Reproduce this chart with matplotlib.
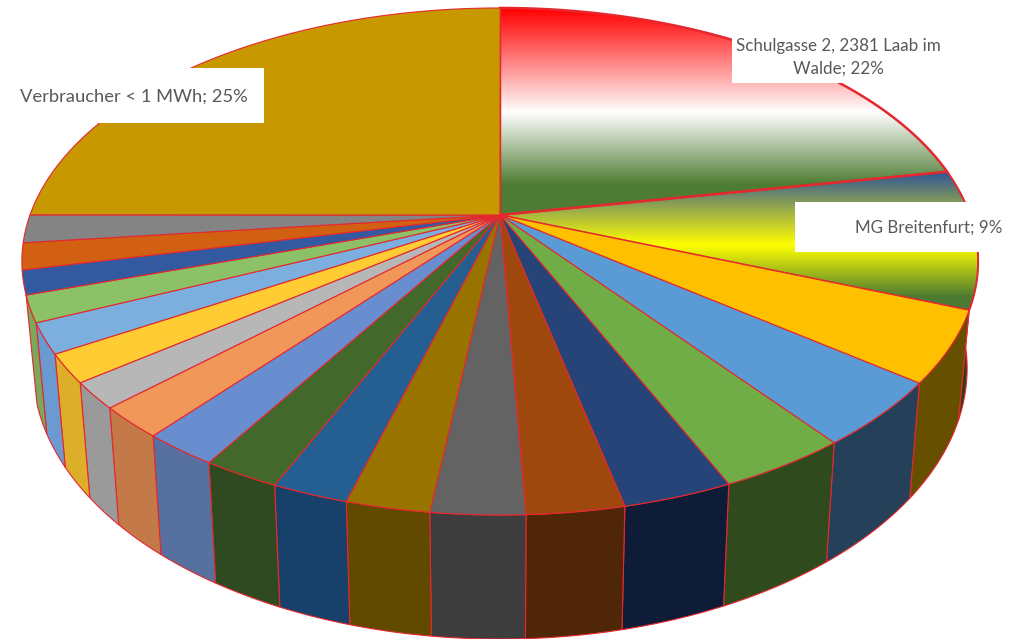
import numpy as np
import matplotlib
matplotlib.use("Agg")
import matplotlib.pyplot as plt
from matplotlib.patches import Polygon, Rectangle
from matplotlib.colors import LinearSegmentedColormap

# share of each slice in percent, clockwise from 12 o'clock
shares = [22.08, 8.83, 4.53, 4.17, 3.75, 3.14, 2.78, 2.67, 2.39, 2.19, 2.22,
          2.17, 2.0, 1.67, 1.81, 1.92, 1.69, 1.53, 1.69, 1.78, 25.0]
top_colors = [None, None, '#FFC000', '#5B9BD5', '#70AD47', '#264478', '#9E480E',
              '#636363', '#997300', '#255E91', '#43682B', '#698ED0', '#F1975A',
              '#B7B7B7', '#FFCD33', '#7CAFDD', '#8CC168', '#335AA1', '#D26012',
              '#848484', '#C89800']
# slices whose wall is out of sight have no wall colour
side_colors = [None, '#2b3f1c', '#665000', '#254059', '#2f4a1c', '#0f1c38',
               '#4f2608', '#3d3d3d', '#614a00', '#17406a', '#2f4a20', '#56709f',
               '#c47a48', '#9a9a9a', '#dcae2a', '#6a9ad0', '#7aa85c', None,
               None, None, None]
# vertical gradients of the two highlighted slices: (pixel row, colour)
grad_one = [(8, '#FF0000'), (112, '#FFFFFF'), (185, '#4E7C33'), (215, '#4E7C33')]
grad_two = [(172, '#2F5597'), (245, '#FFFF00'), (297, '#4C7A32'), (312, '#4C7A32')]
labels = [("Schulgasse 2, 2381 Laab im\nWalde; 22%", 838, 57, 732, 30, 214, 53, 12.25),
          ("MG Breitenfurt; 9%", 929, 228, 795, 202, 212, 50, 12.25),
          ("Verbraucher < 1 MWh; 25%", 134, 97, 0, 68, 264, 55, 13.2)]

CX, CY, RX, RY, K = 500.0, 215.0, 470.0, 245.0, 0.1834
SHRINK, D0, D1 = 0.977, 89.0, 0.068
EDGE = '#E5272E'


def top_pt(theta):
    u, v = np.sin(theta), np.cos(theta)
    w = 1 + K * v
    return CX + RX * u / w, CY - RY * v / w


def low_pt(theta):
    x, y = top_pt(theta)
    return CX + (x - CX) * SHRINK, y + D0 + D1 * y


fig = plt.figure(figsize=(10.25, 6.39), dpi=100)
ax = fig.add_axes([0, 0, 1, 1])
edges = np.radians(np.concatenate([[0], np.cumsum(shares)]) * 3.6)

# side wall, drawn first so that the top surface covers its hidden part
for i, col in enumerate(side_colors):
    if col is None:
        continue
    t = np.linspace(edges[i], edges[i + 1], 80)
    xa, ya = top_pt(t)
    xb, yb = low_pt(t)
    pts = np.column_stack([np.r_[xa, xb[::-1]], np.r_[ya, yb[::-1]]])
    ax.add_patch(Polygon(pts, closed=True, fc=col, ec=EDGE, lw=0.8, zorder=2))

# top surface
for i, col in enumerate(top_colors):
    t = np.linspace(edges[i], edges[i + 1], 120)
    xa, ya = top_pt(t)
    pts = np.column_stack([np.r_[CX, xa], np.r_[CY, ya]])
    if col is None:
        stops = grad_one if i == 0 else grad_two
        y0, y1 = stops[0][0], stops[-1][0]
        cmap = LinearSegmentedColormap.from_list(
            'g%d' % i, [((y - y0) / (y1 - y0), c) for y, c in stops])
        patch = Polygon(pts, closed=True, fc='none', ec=EDGE,
                        lw=1.8 if i == 0 else 1.4, zorder=4)
        ax.add_patch(patch)
        im = ax.imshow(np.linspace(0, 1, 400).reshape(-1, 1), cmap=cmap,
                       extent=[CX - 5, 1000, y1, y0], aspect='auto', zorder=3,
                       interpolation='bilinear')
        clip = Polygon(pts, closed=True, transform=ax.transData)
        im.set_clip_path(clip)
    else:
        ax.add_patch(Polygon(pts, closed=True, fc=col, ec=EDGE, lw=0.8, zorder=5))

for text, tx, ty, bx, by, bw, bh, fs in labels:
    ax.add_patch(Rectangle((bx, by), bw, bh, fc='white', ec='none', zorder=6))
    ax.text(tx, ty, text, ha='center', va='center', color='#595959', fontsize=fs,
            family='Lato', linespacing=1.52, zorder=7)

ax.set_xlim(0, 1025)
ax.set_ylim(639, 0)
ax.axis('off')
fig.savefig('out.png', dpi=100)
